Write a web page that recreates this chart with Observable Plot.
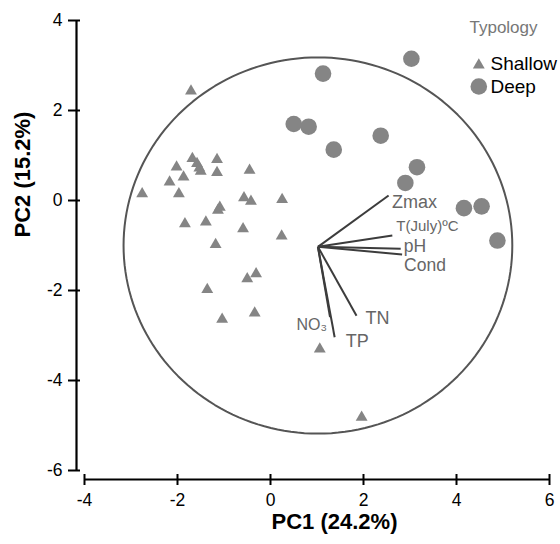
<!DOCTYPE html>
<html><head><meta charset="utf-8">
<script src="https://cdn.jsdelivr.net/npm/d3@7"></script>
<script src="https://cdn.jsdelivr.net/npm/@observablehq/plot@0.6"></script>
<style>body{margin:0;background:#fff;}</style>
</head><body><div id="chart"></div>
<script>
// PCA scores — Shallow lakes
const shallowX = [-1.68,-1.58,-1.53,-1.50,-1.15,-2.02,-1.87,-2.17,-1.15,-0.45,-2.76,-1.97,-0.57,-0.42,0.25,-1.09,-1.13,-1.84,-1.39,-0.59,0.24,-1.18,-0.31,-0.50,-1.36,-1.04,-0.34,-1.71,1.06,1.96];
const shallowY = [0.93,0.82,0.72,0.65,0.91,0.74,0.52,0.41,0.62,0.67,0.15,0.15,0.06,-0.02,0.02,-0.15,-0.22,-0.52,-0.48,-0.63,-0.79,-0.98,-1.63,-1.74,-1.98,-2.64,-2.50,2.43,-3.30,-4.82];
// PCA scores — Deep lakes
const deepX = [1.13,3.03,0.50,0.82,1.36,2.37,3.15,2.90,4.16,4.54,4.88];
const deepY = [2.82,3.15,1.70,1.64,1.13,1.44,0.74,0.39,-0.17,-0.13,-0.89];
// variable loadings (vector ends)
const varNames = ["Zmax","T(July)ºC","pH","Cond","TN","TP","NO₃"];
const varX = [2.54,2.62,2.80,2.83,1.85,1.38,1.28];
const varY = [0.11,-0.78,-1.07,-1.20,-2.56,-3.04,-2.59];
const vecOrigin = [1.02,-1.03];
const circleCenter = [1.02,-1.0];
const circleRadius = 4.18;
const xTicks = [-4,-2,0,2,4,6];
const yTicks = [-6,-4,-2,0,2,4];
const xTitle = "PC1 (24.2%)";
const yTitle = "PC2 (15.2%)";
const legendTitle = "Typology";
const legendLabels = ["Shallow","Deep"];

const X0 = -4.172, Y0 = -6.2; // axis positions (detached axes)
const ptColor = "#858585";
const labColor = "#666666";
const lineColor = "#3c3c3c";

const circlePts = d3.range(0, 361, 2).map(a => ({
  x: circleCenter[0] + circleRadius * Math.cos(a * Math.PI / 180),
  y: circleCenter[1] + circleRadius * Math.sin(a * Math.PI / 180)
}));

// label placement (pixels)
const labStyle = [
  {dx: 3.5, dy: 7, anchor: "start", size: 18},
  {dx: 4, dy: -9.5, anchor: "start", size: 15},
  {dx: 3, dy: -2.5, anchor: "start", size: 17.5},
  {dx: 2, dy: 10.5, anchor: "start", size: 17.5},
  {dx: 9, dy: 3, anchor: "start", size: 18},
  {dx: 11, dy: 4, anchor: "start", size: 18},
  {dx: -3, dy: 8, anchor: "end", size: 16}
];

const idx = d3.range(varNames.length);
const labelMarks = idx.map(i => Plot.text([i], {
  x: () => varX[i], y: () => varY[i], text: () => varNames[i],
  dx: labStyle[i].dx, dy: labStyle[i].dy, textAnchor: labStyle[i].anchor,
  fontSize: labStyle[i].size, fill: labColor, lineAnchor: "middle"
}));

const chart = Plot.plot({
  width: 560, height: 544,
  marginLeft: 76, marginRight: 11, marginTop: 20, marginBottom: 65,
  x: {domain: [X0, 6]},
  y: {domain: [Y0, 4]},
  style: {fontFamily: "'Liberation Sans', Arial, sans-serif", fontSize: "17px", color: "black", background: "white"},
  marks: [
    // axes
    Plot.ruleX([X0], {y1: -6, y2: 4, stroke: "black", strokeWidth: 2.2}),
    Plot.ruleY([Y0], {x1: -4, x2: 6, stroke: "black", strokeWidth: 2.2}),
    Plot.ruleY(yTicks, {x1: X0 - 8/46.5, x2: X0 + 4/46.5, stroke: "black", strokeWidth: 2}),
    Plot.ruleX(xTicks, {y1: Y0 - 6/45, y2: Y0 + 5/45, stroke: "black", strokeWidth: 2}),
    Plot.axisY(yTicks, {tickSize: 0, tickPadding: 14, tickFormat: d => String(d), label: null, fontSize: 17.5}),
    Plot.axisX(xTicks, {tickSize: 0, tickPadding: 14, tickFormat: d => String(d), label: null, fontSize: 17.5}),
    Plot.text([xTitle], {frameAnchor: "bottom", dx: 21.5, dy: 42.5, fontWeight: "bold", fontSize: 22, lineAnchor: "middle", fill: "black"}),
    Plot.text([yTitle], {frameAnchor: "left", rotate: -90, dx: -54, dy: -12.5, fontWeight: "bold", fontSize: 22, lineAnchor: "middle", fill: "black"}),
    // equilibrium circle
    Plot.line(circlePts, {x: "x", y: "y", stroke: "#555", strokeWidth: 2}),
    // vectors
    Plot.link(idx, {x1: () => vecOrigin[0], y1: () => vecOrigin[1], x2: i => varX[i], y2: i => varY[i], stroke: lineColor, strokeWidth: 2}),
    ...labelMarks,
    // points
    Plot.dot(d3.range(shallowX.length), {x: i => shallowX[i], y: i => shallowY[i], symbol: "triangle", r: 4.4, fill: ptColor}),
    Plot.dot(d3.range(deepX.length), {x: i => deepX[i], y: i => deepY[i], symbol: "circle", r: 8.3, fill: ptColor}),
    // legend
    Plot.text([legendTitle], {x: () => 6, y: () => 4, dx: -46, dy: 6.7, textAnchor: "middle", fontSize: 17, fill: "#777"}),
    Plot.dot([0], {x: () => 6, y: () => 4, dx: -70.7, dy: 44.5, symbol: "triangle", r: 4.4, fill: ptColor}),
    Plot.dot([0], {x: () => 6, y: () => 4, dx: -70.7, dy: 66, symbol: "circle", r: 8.3, fill: ptColor}),
    Plot.text([legendLabels[0]], {x: () => 6, y: () => 4, dx: -59, dy: 43.3, textAnchor: "start", fontSize: 19, fill: "black", lineAnchor: "middle"}),
    Plot.text([legendLabels[1]], {x: () => 6, y: () => 4, dx: -59, dy: 66, textAnchor: "start", fontSize: 19, fill: "black", lineAnchor: "middle"})
  ]
});
document.getElementById("chart").appendChild(chart);
</script>
</body></html>
